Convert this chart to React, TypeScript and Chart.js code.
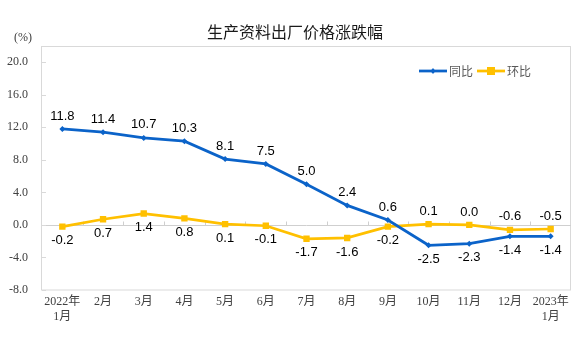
import React, { useEffect, useRef } from 'react';
import { Chart, registerables } from 'chart.js';

Chart.register(...registerables);

const chartTitle = '生产资料出厂价格涨跌幅';
const unitLabel = '(%)';
const categories: string[][] = [
  ['2022年', '1月'], ['2月'], ['3月'], ['4月'], ['5月'], ['6月'], ['7月'],
  ['8月'], ['9月'], ['10月'], ['11月'], ['12月'], ['2023年', '1月'],
];
const seriesNames = ['同比', '环比'];
const yoyValues = [11.8, 11.4, 10.7, 10.3, 8.1, 7.5, 5.0, 2.4, 0.6, -2.5, -2.3, -1.4, -1.4];
const momValues = [-0.2, 0.7, 1.4, 0.8, 0.1, -0.1, -1.7, -1.6, -0.2, 0.1, 0.0, -0.6, -0.5];
const yTickValues = [-8, -4, 0, 4, 8, 12, 16, 20];

const BLUE = '#0B63C9';
const YELLOW = '#FFC000';
const FRAME = '#D9D9D9';
const SERIF = "'Liberation Serif', 'Noto Sans CJK SC', serif";
const SANS = "'Liberation Sans', Arial, 'Noto Sans CJK SC', sans-serif";
const CJK = "'Noto Sans CJK SC', sans-serif";

const decorPlugin = {
  id: 'decor',
  beforeDatasetsDraw(chart: any) {
    const { ctx, chartArea: a, scales } = chart;
    const xs = scales.x;
    const ys = scales.y;
    ctx.save();
    ctx.lineWidth = 1;
    ctx.strokeStyle = FRAME;
    // frame
    ctx.strokeRect(Math.round(a.left) - 0.5, Math.round(a.top) + 0.5, Math.round(a.right - a.left), Math.round(a.bottom - a.top) - 0.5);
    // zero line
    const y0 = Math.round(ys.getPixelForValue(0)) + 0.5;
    ctx.strokeStyle = '#CFCFCF';
    ctx.beginPath();
    ctx.moveTo(a.left, y0);
    ctx.lineTo(a.right, y0);
    ctx.stroke();
    // category tick marks on zero line
    const half = (xs.getPixelForValue(1) - xs.getPixelForValue(0)) / 2;
    ctx.beginPath();
    for (let i = 1; i < categories.length; i++) {
      const xb = Math.round(xs.getPixelForValue(i) - half) + 0.5;
      ctx.moveTo(xb, y0);
      ctx.lineTo(xb, y0 - 4);
    }
    ctx.stroke();
    // y inward ticks
    ctx.strokeStyle = FRAME;
    ctx.beginPath();
    for (const v of yTickValues) {
      const yy = Math.round(ys.getPixelForValue(v)) + 0.5;
      ctx.moveTo(a.left, yy);
      ctx.lineTo(a.left + 4, yy);
    }
    ctx.stroke();
    ctx.restore();
  },
  afterDatasetsDraw(chart: any) {
    const { ctx } = chart;
    const m0 = chart.getDatasetMeta(0);
    const m1 = chart.getDatasetMeta(1);
    const d0 = chart.data.datasets[0].data as number[];
    const d1 = chart.data.datasets[1].data as number[];
    ctx.save();
    ctx.font = `13px ${SANS}`;
    ctx.fillStyle = '#000000';
    ctx.textAlign = 'center';
    ctx.textBaseline = 'middle';
    for (let i = 0; i < d0.length; i++) {
      const p0 = m0.data[i];
      const p1 = m1.data[i];
      const blueAbove = d0[i] >= d1[i];
      ctx.fillText(d0[i].toFixed(1), p0.x, blueAbove ? p0.y - 13 : p0.y + 14);
      ctx.fillText(d1[i].toFixed(1), p1.x, blueAbove ? p1.y + 14 : p1.y - 13);
    }
    ctx.restore();
  },
  afterDraw(chart: any) {
    const { ctx, chartArea: a, width } = chart;
    ctx.save();
    // title
    ctx.font = `16px ${CJK}`;
    ctx.fillStyle = '#1a1a1a';
    ctx.textAlign = 'center';
    ctx.textBaseline = 'middle';
    ctx.fillText(chartTitle, width / 2 + 7, 32);
    // unit
    ctx.font = `12px ${SERIF}`;
    ctx.fillStyle = '#404040';
    ctx.fillText(unitLabel, 23, 38);
    // legend
    const ly = a.top + 25;
    const items = [
      { name: seriesNames[0], color: BLUE, x: a.right - 152, style: 'rectRot', r: 2.5 },
      { name: seriesNames[1], color: YELLOW, x: a.right - 94, style: 'rect', r: 4 },
    ];
    ctx.font = `12px ${CJK}`;
    for (const it of items) {
      ctx.strokeStyle = it.color;
      ctx.lineWidth = 2.75;
      ctx.beginPath();
      ctx.moveTo(it.x, ly);
      ctx.lineTo(it.x + 28, ly);
      ctx.stroke();
      ctx.fillStyle = it.color;
      const cx = it.x + 14;
      if (it.style === 'rect') {
        ctx.fillRect(cx - it.r, ly - it.r, it.r * 2, it.r * 2);
      } else {
        ctx.beginPath();
        ctx.moveTo(cx, ly - it.r - 0.5);
        ctx.lineTo(cx + it.r, ly);
        ctx.lineTo(cx, ly + it.r + 0.5);
        ctx.lineTo(cx - it.r, ly);
        ctx.closePath();
        ctx.fill();
      }
      ctx.fillStyle = '#595959';
      ctx.textAlign = 'left';
      ctx.fillText(it.name, it.x + 30, ly);
    }
    ctx.restore();
  },
};

export default function App() {
  const canvasRef = useRef<HTMLCanvasElement | null>(null);

  useEffect(() => {
    if (!canvasRef.current) return;
    const chart = new Chart(canvasRef.current, {
      type: 'line',
      data: {
        labels: categories,
        datasets: [
          {
            label: seriesNames[0],
            data: yoyValues,
            borderColor: BLUE,
            backgroundColor: BLUE,
            borderWidth: 2.75,
            pointStyle: 'rectRot',
            pointRadius: 3,
            pointBorderWidth: 0,
            tension: 0,
          },
          {
            label: seriesNames[1],
            data: momValues,
            borderColor: YELLOW,
            backgroundColor: YELLOW,
            borderWidth: 2.75,
            pointStyle: 'rect',
            pointRadius: 4.5,
            pointBorderWidth: 0,
            tension: 0,
          },
        ],
      },
      options: {
        animation: false,
        responsive: false,
        devicePixelRatio: 1,
        layout: { padding: { top: 46, right: 5, left: 0, bottom: 0 } },
        plugins: {
          legend: { display: false },
          title: { display: false },
          tooltip: { enabled: false },
        },
        scales: {
          x: {
            type: 'category',
            offset: true,
            grid: { display: false, drawTicks: false },
            border: { display: false },
            ticks: {
              color: '#404040',
              font: { family: SERIF, size: 12, lineHeight: 1.25 },
              padding: 4,
              maxRotation: 0,
              autoSkip: false,
            },
            afterFit(s: any) { s.height = 53; },
          },
          y: {
            min: -8,
            max: 22,
            grid: { display: false, drawTicks: false },
            border: { display: false },
            afterBuildTicks(s: any) { s.ticks = yTickValues.map((v) => ({ value: v })); },
            ticks: {
              color: '#404040',
              font: { family: SERIF, size: 12 },
              padding: 14,
              callback: (v: any) => Number(v).toFixed(1),
            },
            afterFit(s: any) { s.width = 42; },
          },
        },
      },
      plugins: [decorPlugin],
    } as any);
    return () => chart.destroy();
  }, []);

  return (
    <div style={{ position: 'absolute', left: 0, top: 0, width: 576, height: 343, background: '#fff' }}>
      <canvas ref={canvasRef} width={576} height={343} style={{ display: 'block', width: 576, height: 343 }} />
    </div>
  );
}
